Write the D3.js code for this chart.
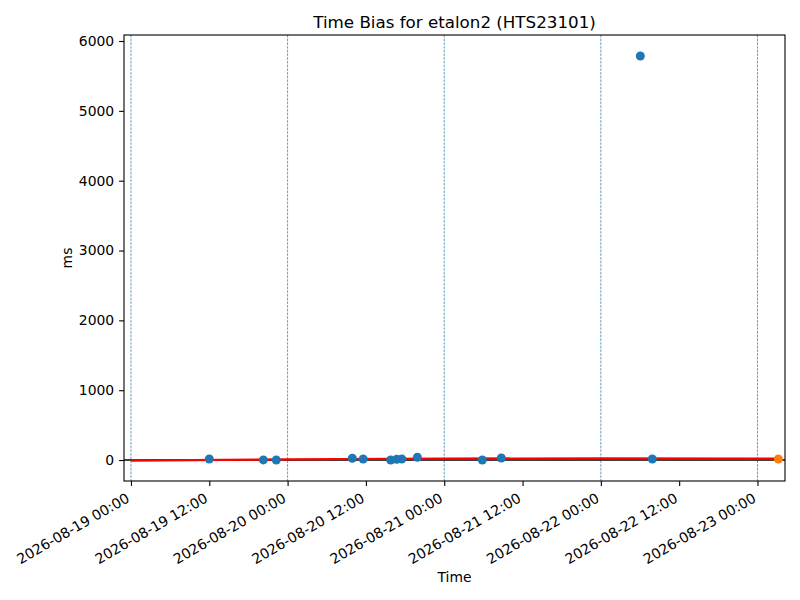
<!DOCTYPE html>
<html>
<head>
<meta charset="utf-8">
<script src="https://cdn.jsdelivr.net/npm/d3@7"></script>
<style>
  body { margin: 0; background: #fff; }
  svg { display: block; font-family: "DejaVu Sans", sans-serif; }
  svg text { font-family: "DejaVu Sans", sans-serif; }
</style>
</head>
<body>
<svg id="chart" width="800" height="600"></svg>
<script>
// ---- data ----
const pointTimes = [
  "2026-08-19T12:00", "2026-08-19T20:17", "2026-08-19T22:16",
  "2026-08-20T09:55", "2026-08-20T11:35", "2026-08-20T15:48",
  "2026-08-20T16:43", "2026-08-20T17:30", "2026-08-20T19:53",
  "2026-08-21T05:50", "2026-08-21T08:45", "2026-08-22T06:03",
  "2026-08-22T07:53"
];
const pointValues = [15, 2, 0, 25, 15, 0, 10, 15, 40, 0, 30, 5786, 15];
const lastTime = "2026-08-23T03:12";
const lastValue = 15;
const trendTimes = ["2026-08-19T00:00", "2026-08-20T00:00", "2026-08-21T00:00", "2026-08-22T00:00", "2026-08-23T03:12"];
const trendValues = [-8, 10, 22, 25, 20];
const dayLines = ["2026-08-19T00:00", "2026-08-20T00:00", "2026-08-21T00:00", "2026-08-22T00:00", "2026-08-23T00:00"];
const xTickLabels = [
  "2026-08-19T00:00", "2026-08-19T12:00", "2026-08-20T00:00", "2026-08-20T12:00",
  "2026-08-21T00:00", "2026-08-21T12:00", "2026-08-22T00:00", "2026-08-22T12:00",
  "2026-08-23T00:00"
];
const yTicks = [0, 1000, 2000, 3000, 4000, 5000, 6000];
const xDomain = ["2026-08-18T22:56", "2026-08-23T04:13"];
const yDomain = [-300, 6086];
const titleText = "Time Bias for etalon2 (HTS23101)";

// ---- layout ----
const W = 800, H = 600;
const m = { left: 124, right: 15, top: 35, bottom: 119 };
const pw = W - m.left - m.right, ph = H - m.top - m.bottom;
const parse = s => new Date(s + ":00Z");
const fmt = d3.utcFormat("%Y-%m-%d %H:%M");

const svg = d3.select("#chart");
const g = svg.append("g").attr("transform", `translate(${m.left},${m.top})`);

const x = d3.scaleUtc().domain(xDomain.map(parse)).range([0, pw]);
const y = d3.scaleLinear().domain(yDomain).range([ph, 0]);

svg.append("clipPath").attr("id", "clip")
  .append("rect").attr("width", pw).attr("height", ph);
const plot = g.append("g").attr("clip-path", "url(#clip)");

// vertical dashed day lines
plot.selectAll("line.day").data(dayLines.map(parse)).join("line")
  .attr("class", "day")
  .attr("x1", d => x(d)).attr("x2", d => x(d))
  .attr("y1", 0).attr("y2", ph)
  .attr("stroke", "#1f77b4").attr("stroke-width", 0.7)
  .attr("stroke-dasharray", "2.6,1.1");

// zero line
plot.append("line")
  .attr("x1", 0).attr("x2", pw)
  .attr("y1", y(0)).attr("y2", y(0))
  .attr("stroke", "#000").attr("stroke-width", 1.4);

// trend line
const trend = trendTimes.map((t, i) => ({ t: parse(t), v: trendValues[i] }));
plot.append("path").datum(trend)
  .attr("fill", "none").attr("stroke", "#ff0000").attr("stroke-width", 2.1)
  .attr("d", d3.line().x(d => x(d.t)).y(d => y(d.v)));

// points
const pts = pointTimes.map((t, i) => ({ t: parse(t), v: pointValues[i] }));
plot.selectAll("circle.pt").data(pts).join("circle")
  .attr("class", "pt")
  .attr("cx", d => x(d.t)).attr("cy", d => y(d.v))
  .attr("r", 4.5).attr("fill", "#1f77b4");

plot.append("circle")
  .attr("cx", x(parse(lastTime))).attr("cy", y(lastValue))
  .attr("r", 4.5).attr("fill", "#ff7f0e");

// axes
const xAxis = d3.axisBottom(x).tickValues(xTickLabels.map(parse)).tickFormat(fmt)
  .tickSize(4.9).tickPadding(3);
const gx = g.append("g").attr("transform", `translate(0,${ph})`).call(xAxis)
  .attr("font-family", null).attr("font-size", null);
gx.select(".domain").remove();
gx.selectAll(".tick line").attr("stroke-width", 1.1);
gx.selectAll(".tick text")
  .attr("font-size", 14.1).attr("fill", "#000")
  .attr("text-anchor", "end")
  .attr("dy", null)
  .attr("transform", "translate(-1,20) rotate(-30)")
  .attr("x", 0).attr("y", 0);

const yAxis = d3.axisLeft(y).tickValues(yTicks).tickFormat(d3.format("d"))
  .tickSize(4.9).tickPadding(4.9);
const gy = g.append("g").call(yAxis)
  .attr("font-family", null).attr("font-size", null);
gy.select(".domain").remove();
gy.selectAll(".tick line").attr("stroke-width", 1.1);
gy.selectAll(".tick text").attr("font-size", 13.9).attr("fill", "#000");

// frame
g.append("rect").attr("width", pw).attr("height", ph)
  .attr("fill", "none").attr("stroke", "#000").attr("stroke-width", 1.1);

// labels
svg.append("text").attr("x", m.left + pw / 2).attr("y", 28)
  .attr("text-anchor", "middle").attr("font-size", 16.7).text(titleText);
svg.append("text").attr("x", m.left + pw / 2).attr("y", 582)
  .attr("text-anchor", "middle").attr("font-size", 13.9).text("Time");
svg.append("text").attr("transform", `translate(72,${m.top + ph / 2}) rotate(-90)`)
  .attr("text-anchor", "middle").attr("font-size", 13.9).text("ms");
</script>
</body>
</html>
